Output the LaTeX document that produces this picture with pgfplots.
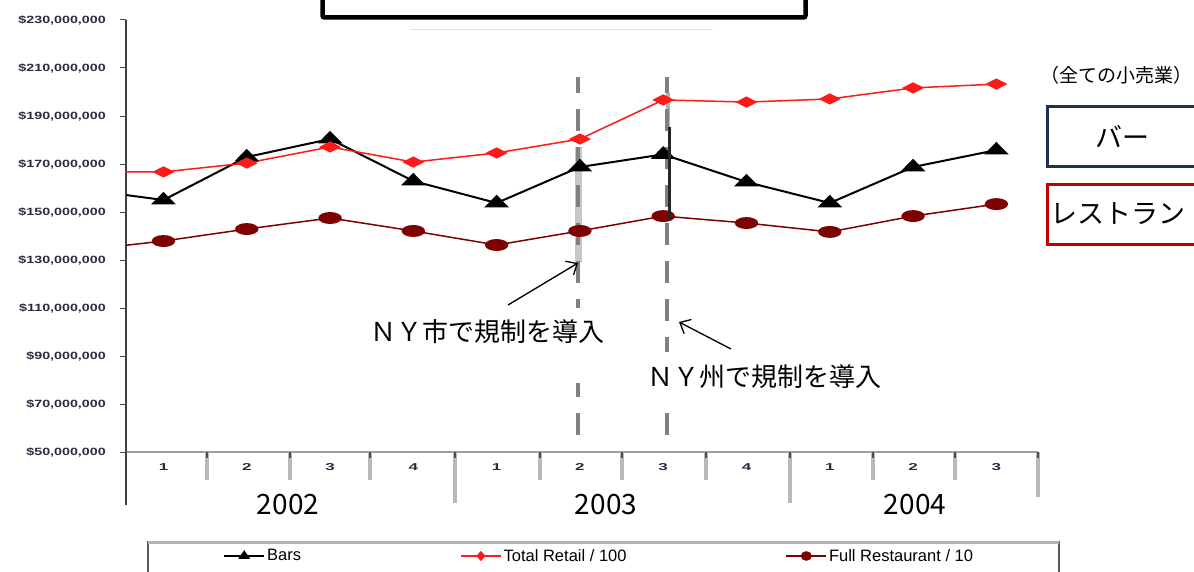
\documentclass[border=0pt]{standalone}
\usepackage{fontspec}
\setmainfont{Liberation Sans}
\newfontfamily\lsans{Liberation Sans}
\newfontfamily\jp{Noto Sans CJK JP}
\usepackage{graphicx}
\usepackage{pgfplots}
\pgfplotsset{compat=1.18}
\usetikzlibrary{arrows.meta}
\definecolor{rred}{HTML}{FF1A1A}
\definecolor{dred}{HTML}{7F0000}
\definecolor{navy}{HTML}{1F3050}
\definecolor{boxred}{HTML}{C00000}
\definecolor{ticklab}{HTML}{2A2A40}
\definecolor{dgray}{HTML}{808080}
\newcommand\yl[1]{\scalebox{1.36}[1]{\lsans\bfseries\fontsize{10.5}{12}\selectfont\$#1}}
\newcommand\xl[1]{\scalebox{1.7}[1]{\lsans\bfseries\fontsize{10}{10}\selectfont #1}}
\begin{document}
\begin{tikzpicture}[x=1pt,y=1pt]
\path[use as bounding box] (0,0) rectangle (1194,571);
\clip (0,0) rectangle (1194,571);
% event lines (behind the data)
\draw[gray!55, line width=7pt, opacity=0.8] (578,424) -- (578,309);
\draw[dgray, line width=4pt, dash pattern=on 22pt off 16pt] (578,136) -- (578,494);
\draw[gray!60, line width=4pt] (668,478) -- (668,444);
\draw[dgray, line width=4pt, dash pattern=on 22pt off 16pt] (667,136) -- (667,494);
\begin{axis}[
  at={(126pt,119pt)}, anchor=south west,
  scale only axis, width=912pt, height=432pt,
  xmin=-0.45, xmax=10.5, ymin=50000000, ymax=230000000,
  scaled y ticks=false,
  axis x line*=bottom, axis y line*=left,
  axis line style={-},
  x axis line style={draw=gray!75, line width=1.6pt},
  y axis line style={draw=black!75, line width=2pt},
  tick align=outside, major tick length=6pt,
  ytick={50000000,70000000,90000000,110000000,130000000,150000000,170000000,190000000,210000000,230000000},
  yticklabels={\yl{50,000,000},\yl{70,000,000},\yl{90,000,000},\yl{110,000,000},\yl{130,000,000},\yl{150,000,000},\yl{170,000,000},\yl{190,000,000},\yl{210,000,000},\yl{230,000,000}},
  ytick style={black!70, line width=1pt},
  yticklabel style={text=ticklab, inner sep=0pt, anchor=east, xshift=-14pt},
  xtick={0,1,2,3,4,5,6,7,8,9,10},
  xticklabels={\xl1,\xl2,\xl3,\xl4,\xl1,\xl2,\xl3,\xl4,\xl1,\xl2,\xl3},
  xtick style={draw=none},
  xticklabel style={text=ticklab, anchor=center, yshift=-9pt},
  legend image code/.code={\draw[mark repeat=2,mark phase=2,#1] plot coordinates {(0pt,0pt) (20pt,0pt) (40pt,0pt)};},
  legend image post style={mark size=4pt, mark options={xscale=1.2}},
  legend columns=3,
  legend cell align=left,
  legend style={at={(0.1064,-0.2407)}, anchor=west, draw=none, fill=none, inner sep=0pt,
    font=\fontsize{16.5}{18}\selectfont, nodes={inner sep=2pt},
    /tikz/every even column/.append style={column sep=157pt}},
]
\addplot[black, line width=2pt, mark=triangle*, mark size=6.8pt, mark options={xscale=1.7}] coordinates {
(-1,159600000) (0,155000000) (1,172900000) (2,180400000) (3,162900000) (4,153750000)
(5,168750000) (6,174000000) (7,162500000) (8,153750000) (9,168750000) (10,175800000)};
\addlegendentry{Bars}
\addplot[rred, line width=1.5pt, mark=diamond*, mark size=4.8pt, mark options={xscale=2.6}] coordinates {
(-1,166700000) (0,166700000) (1,170400000) (2,177100000) (3,170800000) (4,174600000)
(5,180400000) (6,196700000) (7,195800000) (8,197100000) (9,201700000) (10,203300000)};
\addlegendentry{Total Retail / 100}
\addplot[dred, line width=1.5pt, mark=*, mark size=5.2pt, mark options={xscale=2.1}] coordinates {
(-1,134000000) (0,137900000) (1,142900000) (2,147500000) (3,142100000) (4,136250000)
(5,142100000) (6,148300000) (7,145400000) (8,141700000) (9,148300000) (10,153300000)};
\addlegendentry{Full Restaurant / 10}
\end{axis}
% solid part of second event line
\draw[black!85, line width=3pt] (669,444) -- (669,351);
% annotation boxes and texts
\fill[white] (365,263) rectangle (612,188);
\fill[white] (640,219) rectangle (890,169);
\node[font=\jp\fontsize{26}{30}\selectfont] at (487,239) {ＮＹ市で規制を導入};
\node[font=\jp\fontsize{26}{30}\selectfont] at (764,194) {ＮＹ州で規制を導入};
\draw[-{Straight Barb[length=9pt,width=16pt]}, line width=1.3pt] (508,266) -- (578,308);
\draw[-{Straight Barb[length=9pt,width=16pt]}, line width=1.3pt] (731,222) -- (679,249);
% category separators
\foreach \sx in {207,290,370,540,622,706,873,955} {
  \draw[gray!55, line width=3.5pt] (\sx,119) -- (\sx,91);
  \draw[black!70, line width=1.2pt] (\sx,119) -- (\sx,113);
}
\foreach \sx in {455,790} {
  \draw[gray!55, line width=3.5pt] (\sx,119) -- (\sx,68);
  \draw[black!70, line width=1.2pt] (\sx,119) -- (\sx,113);
}
\draw[gray!55, line width=3.5pt] (1038,119) -- (1038,74);
\draw[black!70, line width=1.2pt] (1038,119) -- (1038,113);
\draw[black!75, line width=2pt] (126,119) -- (126,66);
% years
\node[font=\jp\fontsize{28}{30}\selectfont] at (288,66) {2002};
\node[font=\jp\fontsize{28}{30}\selectfont] at (606,66) {2003};
\node[font=\jp\fontsize{28}{30}\selectfont] at (915,66) {2004};
% right side labels
\node[font=\jp\fontsize{19}{22}\selectfont] at (1116,496) {（全ての小売業）};
\draw[navy, line width=3pt] (1047.5,404) rectangle (1215,464);
\node[font=\jp\fontsize{27}{30}\selectfont] at (1122,434) {バー};
\draw[boxred, line width=3pt] (1047.5,326) rectangle (1215,386);
\node[font=\jp\fontsize{27}{30}\selectfont] at (1118,357) {レストラン};
% top box
\draw[black, line width=4.5pt, rounded corners=2pt] (322.5,553.5) rectangle (805.5,620);
\draw[gray!25, line width=1pt] (410,541) -- (713,541);
% legend frame
\draw[gray!70!black, line width=1.2pt] (148,-10) rectangle (1059,29);
\draw[gray!60, line width=3pt] (148,29) -- (1059,29);
\end{tikzpicture}
\end{document}
